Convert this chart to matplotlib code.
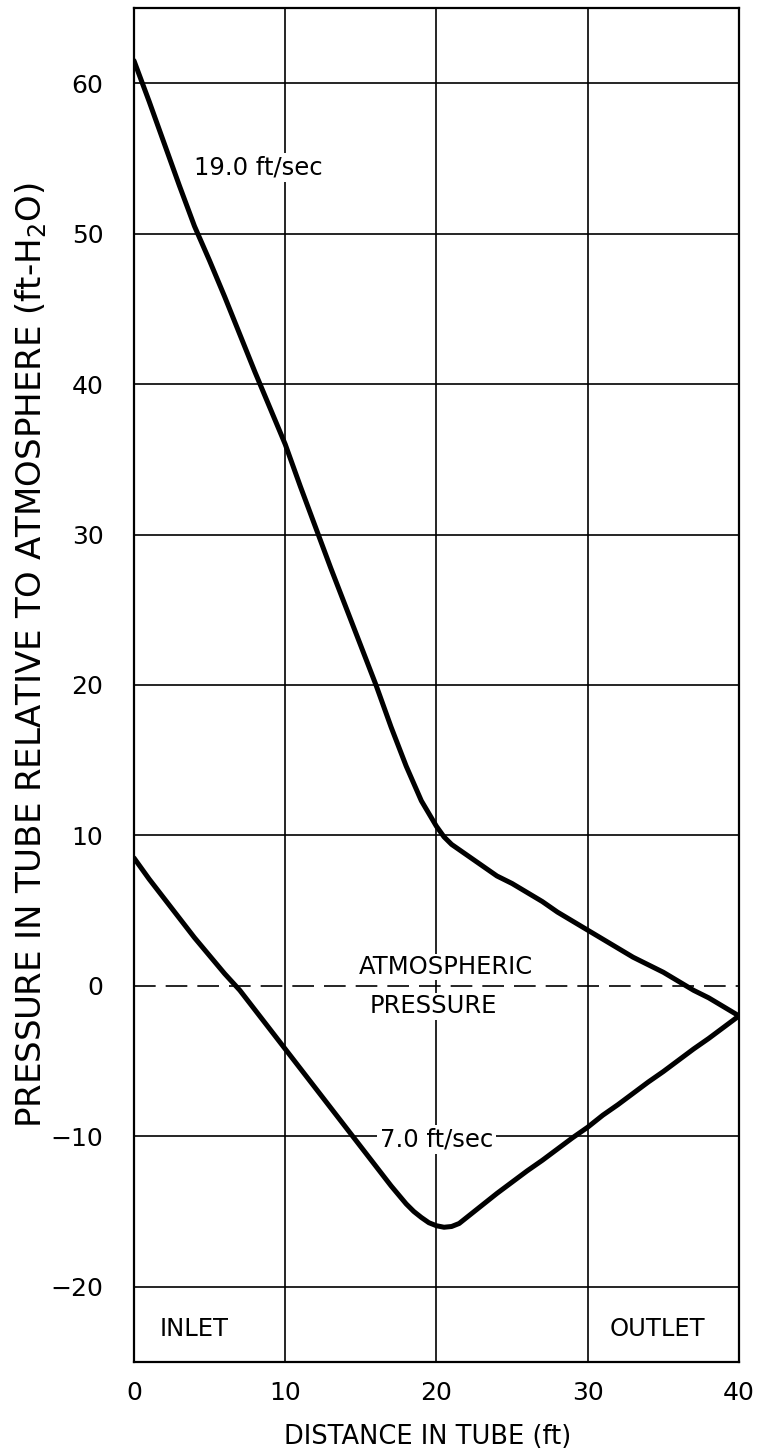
import matplotlib
matplotlib.use("Agg")
import matplotlib.pyplot as plt

# ---- data ----
x_fast = [0, 1, 2, 3, 4, 5, 6, 7, 8, 9, 10, 11, 12, 13, 14, 15, 16, 17, 18, 19, 20, 20.5, 21,
          22, 23, 24, 25, 26, 27, 28, 29, 30, 31, 32, 33, 34, 35, 36, 37, 38, 39, 40]
y_fast = [61.5, 58.8, 56.0, 53.2, 50.5, 48.2, 45.8, 43.3, 40.8, 38.4, 36.0, 33.2, 30.5, 27.8,
          25.2, 22.6, 20.0, 17.2, 14.6, 12.3, 10.6, 9.9, 9.4,
          8.7, 8.0, 7.3, 6.8, 6.2, 5.6, 4.9, 4.3, 3.7, 3.1, 2.5, 1.9, 1.4, 0.9, 0.3, -0.3, -0.8, -1.4, -2.0]

x_slow = [0, 1, 2, 3, 4, 5, 6, 7, 8, 9, 10, 11, 12, 13, 14, 15, 16, 17, 18, 18.5, 19, 19.5,
          20, 20.5, 21, 21.5, 22, 23, 24, 25, 26, 27, 28, 29, 30, 31, 32, 33, 34, 35, 36, 37, 38, 39, 40]
y_slow = [8.5, 7.1, 5.8, 4.5, 3.2, 2.0, 0.8, -0.3, -1.6, -2.9, -4.2, -5.5, -6.8, -8.1, -9.4,
          -10.7, -12.0, -13.3, -14.5, -15.0, -15.4, -15.75, -15.95, -16.05, -16.0, -15.8, -15.4,
          -14.6, -13.8, -13.05, -12.3, -11.6, -10.85, -10.1, -9.4, -8.6, -7.9, -7.15, -6.4,
          -5.7, -4.95, -4.2, -3.5, -2.75, -2.0]

x_ticks = [0, 10, 20, 30, 40]
y_ticks = [-20, -10, 0, 10, 20, 30, 40, 50, 60]
atmos_level = 0

label_fast = "19.0 ft/sec"
label_slow = "7.0 ft/sec"
x_label = "DISTANCE IN TUBE (ft)"
y_label = "PRESSURE IN TUBE RELATIVE TO ATMOSPHERE (ft-H$_2$O)"

# ---- figure ----
plt.rcParams['font.family'] = ['DejaVu Sans']
plt.rcParams['mathtext.fontset'] = 'dejavusans'
fig = plt.figure(figsize=(7.59, 14.55), dpi=100)
ax = fig.add_axes([0.1765, 0.064, 0.7971, 0.9305])
ax.set_xlim(0, 40)
ax.set_ylim(-25, 65)

for v in x_ticks[1:-1]:
    ax.axvline(v, color='black', lw=1.2, zorder=1)
for v in y_ticks:
    if v != atmos_level:
        ax.axhline(v, color='black', lw=1.2, zorder=1)
ax.axhline(atmos_level, color='black', lw=1.2, dashes=(13, 6), zorder=4)

ax.plot(x_fast, y_fast, color='black', lw=3.6, solid_capstyle='round',
        solid_joinstyle='round', zorder=5)
ax.plot(x_slow, y_slow, color='black', lw=3.6, solid_capstyle='round',
        solid_joinstyle='round', zorder=5)

box = dict(facecolor='white', edgecolor='none', pad=2)
tfs = 17.5
ax.text(8.2, 54.4, label_fast, fontsize=tfs, ha='center', va='center', bbox=box, zorder=3)
ax.text(20.0, -10.2, label_slow, fontsize=tfs, ha='center', va='center', bbox=box, zorder=3)
ax.text(20.6, 1.25, "ATMOSPHERIC", fontsize=tfs, ha='center', va='center',
        bbox=dict(facecolor='white', edgecolor='none', pad=1), zorder=3)
ax.text(19.8, -1.35, "PRESSURE", fontsize=tfs, ha='center', va='center',
        bbox=dict(facecolor='white', edgecolor='none', pad=1), zorder=3)
ax.text(4.0, -22.8, "INLET", fontsize=tfs, ha='center', va='center', zorder=3)
ax.text(34.6, -22.8, "OUTLET", fontsize=tfs, ha='center', va='center', zorder=3)

ax.set_xticks(x_ticks)
ax.set_yticks(y_ticks)
ax.tick_params(axis='x', length=0, labelsize=18, pad=14)
ax.tick_params(axis='y', length=0, labelsize=18, pad=22)
for s in ax.spines.values():
    s.set_linewidth(1.6)

ax.set_xlabel(x_label, fontsize=18.5)
ax.xaxis.set_label_coords(0.485, -0.046)
ax.set_ylabel(y_label, fontsize=24.5)
ax.yaxis.set_label_coords(-0.14, 0.522)

fig.savefig("out.png", dpi=100)
